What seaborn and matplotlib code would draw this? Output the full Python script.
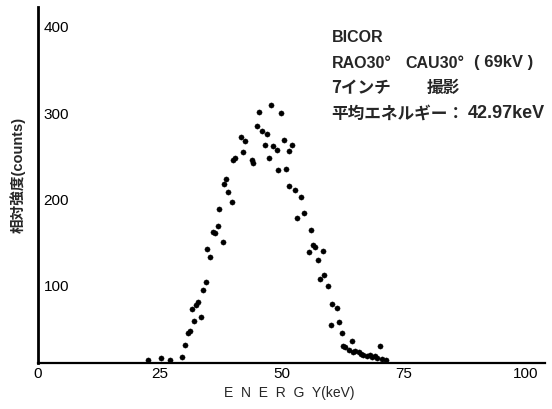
import matplotlib
matplotlib.use("Agg")
import matplotlib.pyplot as plt
import seaborn as sns
import pandas as pd

energy_kev = [22.5, 25.2, 27.0, 29.5, 30.1, 30.7, 31.1, 32.0, 31.6, 32.4, 32.8, 33.4, 33.8, 34.4,
              35.2, 34.6, 37.9, 35.9, 36.3, 36.9, 37.1, 39.8, 38.9, 38.1, 38.5, 40.4, 40.0, 42.0,
              41.6, 42.4, 43.9, 44.1, 44.9, 45.3, 45.9, 46.9, 46.5, 47.3, 47.7, 48.2, 49.0, 49.2,
              49.8, 50.4, 50.8, 51.4, 52.0, 51.4, 52.7, 53.9, 54.5, 53.1, 55.9, 56.4, 56.8, 58.4,
              55.5, 57.4, 58.6, 57.8, 59.4, 60.2, 61.3, 60.0, 61.7, 62.3, 64.3, 62.9, 63.7, 64.5,
              65.8, 66.6, 67.4, 68.4, 70.1, 69.5, 70.5, 71.3, 62.5, 65.0, 66.2, 68.0, 69.0]
counts = [12.8, 15.1, 12.8, 16.3, 30.2, 44.2, 46.5, 58.1, 72.1, 76.7, 80.2, 62.8, 94.2, 103.5,
          132.6, 141.9, 150.0, 161.6, 160.5, 168.6, 188.4, 196.5, 207.0, 216.3, 222.1, 246.5, 244.2, 253.5,
          270.9, 266.3, 244.2, 240.7, 283.7, 300.0, 277.9, 274.4, 261.6, 246.5, 308.1, 260.5, 255.8, 232.6,
          298.8, 267.4, 233.7, 254.7, 261.6, 214.0, 209.3, 202.3, 183.7, 177.9, 164.0, 146.5, 144.2, 139.5,
          138.4, 129.1, 111.6, 107.0, 98.8, 77.9, 73.3, 53.5, 57.0, 44.2, 34.9, 27.9, 24.4, 22.1,
          22.1, 18.6, 17.4, 16.3, 29.1, 15.1, 14.0, 12.8, 29.0, 23.0, 20.0, 18.6, 17.4]

x_ticks = [0, 25, 50, 75, 100]
y_ticks = [100, 200, 300, 400]

title_line = "BICOR"
view_parts = ["RAO30°", "CAU30°", "( 69kV )"]
size_parts = ["7インチ", "撮影"]
mean_parts = ["平均エネルギー：", "42.97keV"]

df = pd.DataFrame({"energy": energy_kev, "counts": counts})

sns.set_style("white")
LAT = ['Liberation Sans', 'Noto Sans CJK JP']
JP = ['Noto Sans CJK JP', 'Liberation Sans']
plt.rcParams['font.family'] = LAT

fig = plt.figure(figsize=(5.52, 4.10), dpi=100)
ax = fig.add_axes([38 / 552, 1 - 364 / 410, (545 - 38) / 552, (364 - 8) / 410])

sns.scatterplot(data=df, x="energy", y="counts", ax=ax, color="black", s=14,
                edgecolor="black", linewidth=0.3)

ax.set_xlim(0, 103.9)
ax.set_ylim(9.3, 422)
ax.set_xticks(x_ticks)
ax.set_xticklabels([str(t) for t in x_ticks])
ax.set_yticks(y_ticks)
ax.set_yticklabels([str(t) for t in y_ticks])

for s in ["top", "right"]:
    ax.spines[s].set_visible(False)
ax.spines["left"].set_linewidth(2.0)
ax.spines["bottom"].set_linewidth(1.6)
ax.spines["left"].set_color("black")
ax.spines["bottom"].set_color("black")

ax.tick_params(axis="x", direction="in", length=5, width=1, pad=2, labelsize=11, colors="black")
ax.tick_params(axis="y", direction="in", length=4, width=1, pad=-4, labelsize=11, colors="black")
for lab in ax.get_yticklabels():
    lab.set_horizontalalignment("left")

ax.set_xlabel("")
ax.set_ylabel("")
fig.text(289 / 552, 1 - 393 / 410, "E  N  E  R  G  Y(keV)", ha="center", va="center",
         fontsize=10, family=LAT)
fig.text(18 / 552, 1 - 175 / 410, "相対強度(counts)", ha="center", va="center", rotation=90,
         fontsize=10.5, fontweight="bold", family=LAT)


def put(xpx, ypx, s, fam, size):
    fig.text(xpx / 552, 1 - ypx / 410, s, ha="left", va="center", fontsize=size,
             fontweight="bold", family=fam)


put(332, 37, title_line, LAT, 11.5)
put(332, 63, view_parts[0], LAT, 11.5)
put(405, 63, view_parts[1], LAT, 11.5)
put(474, 63, view_parts[2], LAT, 12)
put(331, 88, size_parts[0], JP, 12)
put(427, 88, size_parts[1], JP, 12)
put(331, 114, mean_parts[0], JP, 12)
put(468, 114, mean_parts[1], LAT, 13)

fig.savefig("out.png", dpi=100)
